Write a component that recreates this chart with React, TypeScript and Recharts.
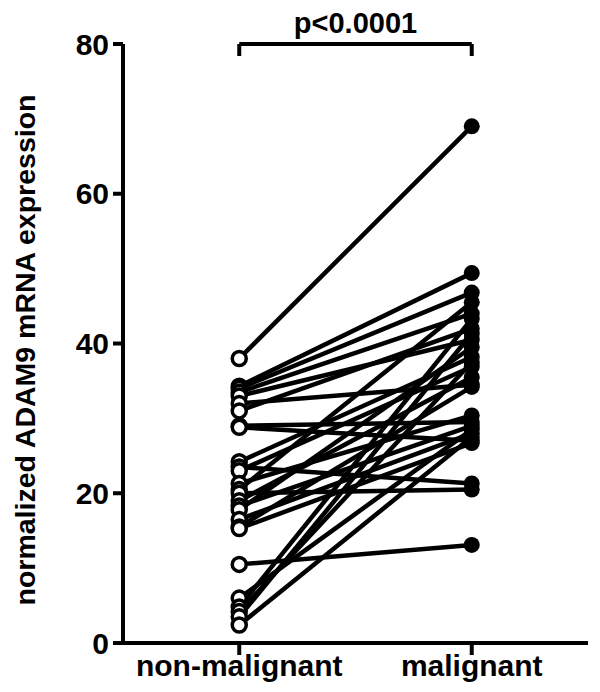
import React from "react";
import {
    LineChart,
    Line,
    XAxis,
    YAxis,
    ReferenceLine,
} from "recharts";

const categories = ["non-malignant", "malignant"];

// paired samples: value in non-malignant tissue -> value in malignant tissue
const nonMalignant = [
    38.0, 34.3, 34.0, 33.5, 33.0, 32.0, 31.0, 29.0, 28.8, 24.2, 23.5, 23.0, 21.3, 20.5,
    20.0, 19.0, 18.3, 17.8, 16.5, 15.5, 15.3, 10.5, 6.0, 4.8, 4.2, 3.5, 2.4,
];
const malignant = [
    69.0, 49.4, 46.8, 44.0, 40.5, 34.5, 42.0, 29.5, 27.0, 38.2, 21.3, 36.9, 30.4, 45.5,
    20.5, 35.5, 29.0, 39.5, 28.0, 34.2, 26.7, 13.1, 28.5, 43.3, 37.5, 41.3, 27.5,
];

const yTicks = [0, 20, 40, 60, 80];
const pLabel = "p<0.0001";
const yTitle = "normalized ADAM9 mRNA expression";

const font = "'Liberation Sans', Arial, Helvetica, sans-serif";

const data = categories.map((c, i) => {
    const row: Record<string, number> = { x: i };
    nonMalignant.forEach((v, k) => {
        row["p" + k] = i === 0 ? v : malignant[k];
    });
    return row;
});

const renderDot = (props: any) => {
    const { cx, cy, index, dataKey } = props;
    if (index === 0) {
        return (
            <circle key={`${dataKey}-${index}`} cx={cx} cy={cy} r={7} fill="#fff" stroke="#000" strokeWidth={3.5} />
        );
    }
    return <circle key={`${dataKey}-${index}`} cx={cx} cy={cy} r={8} fill="#000" />;
};

const YTitle = () => (
    <text
        x={25}
        y={350}
        transform="rotate(-90, 25, 350)"
        textAnchor="middle"
        dominantBaseline="central"
        fontFamily={font}
        fontWeight="bold"
        fontSize={28.5}
        fill="#000"
    >
        {yTitle}
    </text>
);

export default function App() {
    return (
        <div style={{ position: "absolute", left: 0, top: 0, background: "#fff" }}>
            <LineChart
                width={600}
                height={692}
                data={data}
                margin={{ top: 44, right: 12, left: 0, bottom: 0 }}
            >
                <XAxis
                    dataKey="x"
                    type="number"
                    domain={[-0.5, 1.5]}
                    ticks={[0, 1]}
                    tickFormatter={(v: number) => categories[v]}
                    stroke="#000"
                    strokeWidth={4}
                    tickSize={12}
                    height={49}
                    tick={{ fill: "#000", fontFamily: font, fontWeight: "bold", fontSize: 30 }}
                    tickMargin={0}
                />
                <YAxis
                    type="number"
                    domain={[0, 80]}
                    ticks={yTicks}
                    width={123}
                    stroke="#000"
                    strokeWidth={4}
                    tickSize={10}
                    tickMargin={4}
                    tick={{ fill: "#000", fontFamily: font, fontWeight: "bold", fontSize: 30 }}
                    label={<YTitle />}
                />
                {nonMalignant.map((_, k) => (
                    <Line
                        key={k}
                        dataKey={"p" + k}
                        stroke="#000"
                        strokeWidth={4.5}
                        dot={renderDot}
                        activeDot={false}
                        isAnimationActive={false}
                    />
                ))}
                <ReferenceLine
                    segment={[{ x: 0, y: 80 }, { x: 1, y: 80 }]}
                    stroke="#000"
                    strokeWidth={4}
                    ifOverflow="visible"
                    label={{
                        value: pLabel,
                        position: "top",
                        offset: 11,
                        fill: "#000",
                        fontFamily: font,
                        fontWeight: "bold",
                        fontSize: 29,
                    }}
                />
                <ReferenceLine
                    segment={[{ x: 0, y: 80 }, { x: 0, y: 78.4 }]}
                    stroke="#000"
                    strokeWidth={4}
                    ifOverflow="visible"
                />
                <ReferenceLine
                    segment={[{ x: 1, y: 80 }, { x: 1, y: 78.4 }]}
                    stroke="#000"
                    strokeWidth={4}
                    ifOverflow="visible"
                />
            </LineChart>
        </div>
    );
}
